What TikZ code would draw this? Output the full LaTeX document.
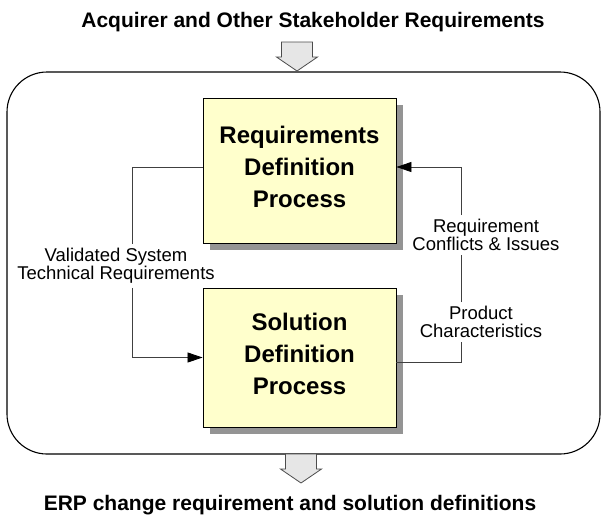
\documentclass[tikz,border=0pt]{standalone}
\usepackage{fontspec}
\setmainfont{Liberation Sans}
\usetikzlibrary{arrows.meta,shadows}

\definecolor{procfill}{RGB}{255,255,204}
\definecolor{flowfill}{RGB}{230,230,230}
\newcommand{\lowstrut}{\rule[-8pt]{0pt}{8pt}}

\tikzset{
  process/.style={draw=black,line width=0.9pt,fill=procfill,minimum width=193pt,align=center,
    font=\fontsize{24}{32}\selectfont\bfseries,
    drop shadow={shadow xshift=7pt,shadow yshift=-7pt,fill=black!42,opacity=1}},
  flowlabel/.style={align=center,inner sep=4pt,font=\fontsize{18.5}{18}\selectfont},
  heading/.style={font=\fontsize{21}{24}\selectfont\bfseries,inner sep=0pt},
  link/.style={draw=black!75,line width=0.8pt},
  flow/.style={link,-{Triangle[length=15pt,width=10pt,color=black]}},
  bigarrow/.style={draw=black!70,line width=0.8pt,fill=flowfill}
}

\begin{document}
\begin{tikzpicture}[x=1pt,y=-1pt]

\useasboundingbox (0,0) rectangle (601,515);

% outer frame
\draw[line width=1.1pt,rounded corners=40pt] (7,72) rectangle (600,454);

% in and out arrows
\foreach \cx/\ty in {297/42,301/454}
	\draw[bigarrow] (\cx-15.5,\ty) -- ++(31,0) -- ++(0,15) -- ++(5,0) -- (\cx,\ty+29) -- (\cx-20.5,\ty+15) -- ++(5,0) -- cycle;

\node[heading,anchor=base] (intitle) at (313,27) {Acquirer and Other Stakeholder Requirements};
\node[heading,anchor=base] (outtitle) at (290,510) {ERP change requirement and solution definitions};

% processes
\node[process,minimum height=145pt] (reqdef) at (299.5,170.5) {Requirements\\Definition\\Process\lowstrut};
\node[process,minimum height=139pt] (soldef) at (299.5,357.5) {Solution\\Definition\\Process\lowstrut};

% flow labels
\node[flowlabel] (valid) at (116,266) {Validated System\\Technical Requirements};
\node[flowlabel] (conf) at (486,235) {Requirement\\Conflicts \& Issues};
\node[flowlabel] (prod) at (481,322) {Product\\Characteristics};

\coordinate (vl) at (132,0);
\coordinate (vr) at (461,0);

\draw[link] ([yshift=3.5pt]reqdef.west) -| (vl |- valid.north);
\draw[flow] (vl |- valid.south) |- (soldef.west);

\draw[link] ([yshift=-4.5pt]soldef.east) -| (vr |- prod.south);
\draw[link] (vr |- prod.north) -- (vr |- conf.south);
\draw[flow] (vr |- conf.north) |- ([yshift=3.5pt]reqdef.east);

\end{tikzpicture}
\end{document}
